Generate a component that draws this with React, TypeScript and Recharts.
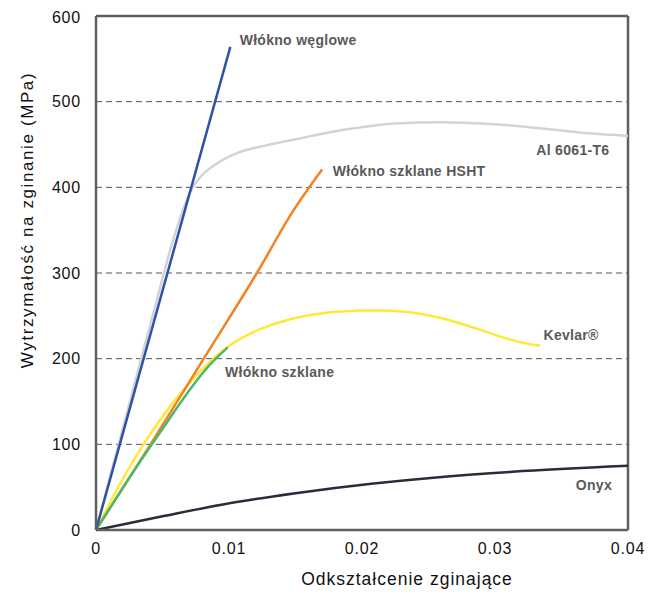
import { LineChart, Line, XAxis, YAxis, CartesianGrid, ReferenceLine, ReferenceDot, Label } from "recharts"

// strain (x) / stress MPa (y)
const carbonFiber = [
	{ x: 0, y: 0 },
	{ x: 0.0101, y: 564 },
]

const aluminium = [
	{ x: 0, y: 0 },
	{ x: 0.0017, y: 100 },
	{ x: 0.0034, y: 200 },
	{ x: 0.0046, y: 270 },
	{ x: 0.0056, y: 328 },
	{ x: 0.0065, y: 372 },
	{ x: 0.0072, y: 398 },
	{ x: 0.0079, y: 413 },
	{ x: 0.0091, y: 428 },
	{ x: 0.0106, y: 440 },
	{ x: 0.0128, y: 449 },
	{ x: 0.0153, y: 457 },
	{ x: 0.0178, y: 465 },
	{ x: 0.0204, y: 471 },
	{ x: 0.0225, y: 474.5 },
	{ x: 0.0259, y: 476 },
	{ x: 0.0296, y: 474 },
	{ x: 0.0334, y: 469 },
	{ x: 0.0371, y: 463 },
	{ x: 0.04, y: 460 },
]

const glassHSHT = [
	{ x: 0, y: 0 },
	{ x: 0.0041, y: 100 },
	{ x: 0.0081, y: 200 },
	{ x: 0.0121, y: 300 },
	{ x: 0.0148, y: 372 },
	{ x: 0.017, y: 421 },
]

const glassFiber = [
	{ x: 0, y: 0 },
	{ x: 0.0042, y: 100 },
	{ x: 0.009, y: 200 },
	{ x: 0.0099, y: 213 },
]

const kevlar = [
	{ x: 0, y: 0 },
	{ x: 0.0017, y: 52 },
	{ x: 0.0035, y: 100 },
	{ x: 0.006, y: 155 },
	{ x: 0.0087, y: 200 },
	{ x: 0.0104, y: 220 },
	{ x: 0.0121, y: 234 },
	{ x: 0.0146, y: 247 },
	{ x: 0.0171, y: 254 },
	{ x: 0.02, y: 256.5 },
	{ x: 0.0221, y: 256.5 },
	{ x: 0.0246, y: 253 },
	{ x: 0.0271, y: 243 },
	{ x: 0.0296, y: 230 },
	{ x: 0.0317, y: 219 },
	{ x: 0.0334, y: 215 },
]

const onyx = [
	{ x: 0, y: 0 },
	{ x: 0.005, y: 16 },
	{ x: 0.0107, y: 33 },
	{ x: 0.015, y: 43 },
	{ x: 0.0207, y: 54 },
	{ x: 0.026, y: 62 },
	{ x: 0.0313, y: 68 },
	{ x: 0.04, y: 75 },
]

const xTicks = [0, 0.01, 0.02, 0.03, 0.04]
const yTicks = [0, 100, 200, 300, 400, 500, 600]

// annotation text and the data point it sits at
const labels = [
	{ text: "Włókno węglowe", x: 0.0108, y: 572, anchor: "start" },
	{ text: "Al 6061-T6", x: 0.0386, y: 443, anchor: "end" },
	{ text: "Włókno szklane HSHT", x: 0.0178, y: 419, anchor: "start" },
	{ text: "Kevlar®", x: 0.0378, y: 228, anchor: "end" },
	{ text: "Włókno szklane", x: 0.0097, y: 184, anchor: "start" },
	{ text: "Onyx", x: 0.0388, y: 52, anchor: "end" },
]

const frame = "#5f5f5f"
const font = "'Liberation Sans', Arial, sans-serif"
const tickStyle = { fill: "#111", fontSize: 16, fontFamily: font, letterSpacing: 0.8 }

export default function App() {
	return (
		<LineChart width={652} height={586} margin={{ top: 8, right: 32, left: 0, bottom: 4 }}>
			<CartesianGrid horizontal vertical={false} stroke="#555" strokeDasharray="6 4" />
			<XAxis
				type="number"
				dataKey="x"
				domain={[0, 0.04]}
				ticks={xTicks}
				tickFormatter={(v: number) => (v === 0 ? "0" : v.toFixed(2))}
				stroke={frame}
				strokeWidth={2.5}
				tickLine={false}
				tickSize={0}
				tickMargin={13}
				height={60}
				tick={tickStyle}
			>
				<Label
					content={() => (
						<text x={399} y={577} textAnchor="middle" fontSize={17.5} letterSpacing={1} fontFamily={font} fill="#111">
							Odkształcenie zginające
						</text>
					)}
				/>
			</XAxis>
			<YAxis
				type="number"
				dataKey="y"
				domain={[0, 600]}
				ticks={yTicks}
				stroke={frame}
				strokeWidth={2.5}
				tickLine={false}
				tickSize={0}
				tickMargin={15}
				width={88}
				tick={tickStyle}
			>
				<Label
					content={() => (
						<text x={19} y={212} transform="rotate(-90 19 212)" textAnchor="middle" dominantBaseline="central" fontSize={17} letterSpacing={1.6} fontFamily={font} fill="#111">
							Wytrzymałość na zginanie (MPa)
						</text>
					)}
				/>
			</YAxis>
			<ReferenceLine y={600} stroke={frame} strokeWidth={2.5} />
			<ReferenceLine x={0.04} stroke={frame} strokeWidth={2.5} />

			<Line data={aluminium} dataKey="y" type="monotone" stroke="#d3d3d3" strokeWidth={2.5} dot={false} isAnimationActive={false} />
			<Line data={onyx} dataKey="y" type="monotone" stroke="#2b2b3b" strokeWidth={2.5} dot={false} isAnimationActive={false} />
			<Line data={kevlar} dataKey="y" type="basis" stroke="#ffe83a" strokeWidth={2.5} dot={false} isAnimationActive={false} />
			<Line data={glassHSHT} dataKey="y" type="monotone" stroke="#f5821f" strokeWidth={2.5} dot={false} isAnimationActive={false} />
			<Line data={glassFiber} dataKey="y" type="monotone" stroke="#4fb868" strokeWidth={2.5} dot={false} isAnimationActive={false} />
			<Line data={carbonFiber} dataKey="y" type="linear" stroke="#2f51a6" strokeWidth={2.5} dot={false} isAnimationActive={false} />

			{labels.map((l) => (
				<ReferenceDot
					key={l.text}
					x={l.x}
					y={l.y}
					r={0}
					stroke="none"
					label={(props: any) => (
						<text x={props.viewBox.x} y={props.viewBox.y} textAnchor={l.anchor} dominantBaseline="central" fontSize={14} letterSpacing={0.3} fontWeight="bold" fontFamily={font} fill="#5a5a5a">
							{l.text}
						</text>
					)}
				/>
			))}
		</LineChart>
	)
}
